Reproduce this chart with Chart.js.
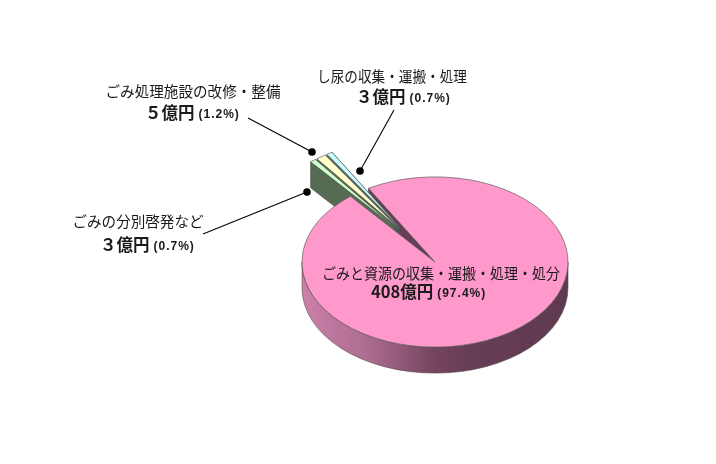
<!DOCTYPE html>
<html lang="ja">
<head>
<meta charset="utf-8">
<style>
html,body{margin:0;padding:0;background:#fff;}
#wrap{position:absolute;left:0;top:0;width:716px;height:464px;}
</style>
<script src="https://cdn.jsdelivr.net/npm/chart.js@4"></script>
</head>
<body>
<div id="wrap"><canvas id="c" width="716" height="464"></canvas></div>
<script>
const categories = ["ごみと資源の収集・運搬・処理・処分","ごみの分別啓発など","ごみ処理施設の改修・整備","し尿の収集・運搬・処理"];
const values = [408, 3, 5, 3];
const amountLabels = ["408億円","３億円","５億円","３億円"];
const percentLabels = ["(97.4%)","(0.7%)","(1.2%)","(0.7%)"];
const topColors = ["#ff99cc","#ccffcc","#ffffcc","#ccffff"];
const wallColors = ["#663d55","#556b53","#66664f","#556b6b"];

// Presentation only
const SQUASH = 0.64, DEPTH = 26, RADIUS = 133, SMALL_RADIUS = 135, EXPLODE = 65;
const FONT_JP = '"Noto Sans CJK JP"';
const labelLayout = [
  {cx:441, w:238, y1:274, x2:371, y2:292},
  {cx:138, w:131, y1:222, x2:100, y2:245},
  {cx:193, w:175, y1:92,  x2:145, y2:113},
  {cx:392, w:150, y1:77,  x2:356, y2:97}
];
const leaders = [
  null,
  [203,234,307,192],
  [248,118,312,152],
  [394,110,360,171]
];

function radialWall(ctx, c, r, a, fill){
  const px = c.x + Math.cos(a)*r, py = c.y + Math.sin(a)*r*SQUASH;
  ctx.beginPath();
  ctx.moveTo(c.x,c.y); ctx.lineTo(px,py); ctx.lineTo(px,py+DEPTH); ctx.lineTo(c.x,c.y+DEPTH); ctx.closePath();
  ctx.fillStyle = fill; ctx.fill();
  ctx.lineWidth = .6; ctx.strokeStyle = "#4a4a4a"; ctx.stroke();
}
const pie3d = {
  id:"pie3d",
  afterDatasetsUpdate(chart){
    // Pull the small slices out, mostly along the direction of the whole group.
    const data = chart.getDatasetMeta(0).data;
    const groupMid = (data[1].startAngle + data[data.length-1].endAngle)/2;
    data.forEach((a,i)=>{
      if(i===0) return;
      const own = (a.startAngle + a.endAngle)/2;
      const dir = groupMid + (own-groupMid)*0.5;
      a.x += Math.cos(dir)*EXPLODE;
      a.y += Math.sin(dir)*EXPLODE;
      a.outerRadius = SMALL_RADIUS;
    });
  },
  beforeDatasetsDraw(chart){
    const ctx = chart.ctx, arcs = chart.getDatasetMeta(0).data;
    const m = arcs[0], r = m.outerRadius, cx = m.x, cy = m.y;
    const screen = a => ({x:a.x, y:cy + (a.y-cy)*SQUASH});
    ctx.save();
    const g = ctx.createLinearGradient(cx-r,0,cx+r,0);
    g.addColorStop(0,"#cc80aa"); g.addColorStop(.25,"#ac6c90"); g.addColorStop(.5,"#74445e"); g.addColorStop(.65,"#663d55"); g.addColorStop(1,"#5f3a4f");
    ctx.beginPath();
    ctx.ellipse(cx,cy,r,r*SQUASH,0,0,Math.PI,false);
    ctx.ellipse(cx,cy+DEPTH,r,r*SQUASH,0,Math.PI,0,true);
    ctx.closePath();
    ctx.fillStyle = g; ctx.fill();
    ctx.lineWidth = .6; ctx.strokeStyle = "#5a4a52"; ctx.stroke();
    radialWall(ctx,screen(m),r,m.startAngle,wallColors[0]);
    radialWall(ctx,screen(m),r,m.endAngle,wallColors[0]);
    for(let i=arcs.length-1;i>=1;i--){
      const a = arcs[i], c = screen(a);
      radialWall(ctx,c,a.outerRadius,a.endAngle,wallColors[i]);
      radialWall(ctx,c,a.outerRadius,a.startAngle,wallColors[i]);
    }
    ctx.restore();
    ctx.save();
    ctx.translate(cx,cy); ctx.scale(1,SQUASH); ctx.translate(-cx,-cy);
  },
  afterDatasetsDraw(chart){
    const ctx = chart.ctx;
    ctx.restore();
    ctx.save();
    ctx.strokeStyle = "#000"; ctx.fillStyle = "#000"; ctx.lineWidth = 1.1;
    leaders.forEach(l=>{
      if(!l) return;
      ctx.beginPath(); ctx.moveTo(l[0],l[1]); ctx.lineTo(l[2],l[3]); ctx.stroke();
      ctx.beginPath(); ctx.arc(l[2],l[3],3.8,0,Math.PI*2); ctx.fill();
    });
    ctx.textBaseline = "alphabetic";
    categories.forEach((t,i)=>{
      const p = labelLayout[i];
      ctx.fillStyle = "#1a1a1a";
      ctx.textAlign = "center";
      ctx.font = `400 15px ${FONT_JP}`;
      ctx.fillText(t,p.cx,p.y1+5,p.w);
      ctx.textAlign = "left";
      ctx.font = `700 16.5px ${FONT_JP}`;
      ctx.fillText(amountLabels[i],p.x2,p.y2+6);
      const w = ctx.measureText(amountLabels[i]).width;
      ctx.font = `bold 12px "Liberation Sans"`;
      ctx.letterSpacing = "1px";
      ctx.fillText(percentLabels[i],p.x2+w+4,p.y2+5);
      ctx.letterSpacing = "0px";
    });
    ctx.restore();
  }
};
new Chart(document.getElementById("c"),{
  type:"pie",
  data:{labels:categories,datasets:[{
    data:values,
    backgroundColor:topColors,
    borderColor:"#555555",
    borderWidth:.8,
    borderJoinStyle:"round",
    clip:false
  }]},
  options:{
    responsive:false,
    animation:false,
    events:[],
    radius:RADIUS,
    rotation:-30,
    layout:{padding:{left:154,top:60,right:0,bottom:0}},
    plugins:{legend:{display:false},tooltip:{enabled:false},title:{display:false}}
  },
  plugins:[pie3d]
});
</script>
</body>
</html>
